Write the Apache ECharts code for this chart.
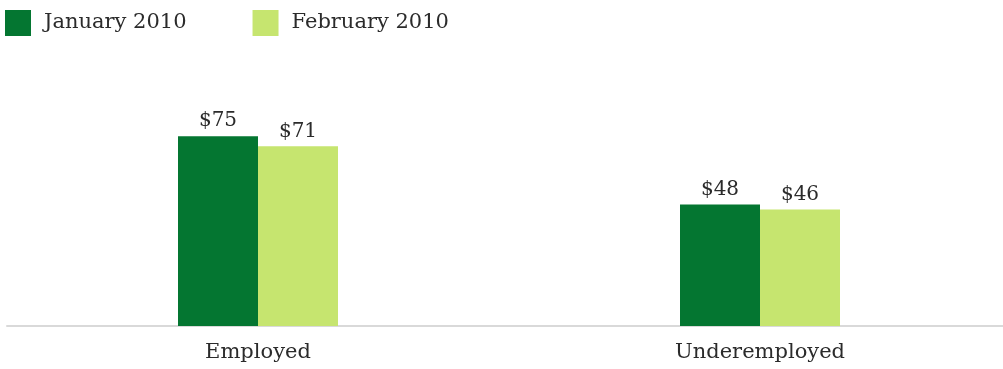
<!DOCTYPE html>
<html>
<head>
<meta charset="utf-8">
<style>
  html, body { margin: 0; padding: 0; background: #ffffff; overflow: hidden; }
  /* the plot runs a little past the right edge of the window, so the axis line bleeds off */
  #chart { width: 1011px; height: 369px; }
</style>
<script src="https://cdn.jsdelivr.net/npm/echarts@6/dist/echarts.min.js"></script>
</head>
<body>
<div id="chart"></div>
<script>
// Average spending, by employment status, in two months of 2010
const categories = ['Employed', 'Underemployed'];
const seriesNames = ['January 2010', 'February 2010'];
const janValues = [75, 48];
const febValues = [71, 46];

const FONT = 'DejaVu Serif';
const TEXT_COLOR = '#2b2b2b';
const DARK_GREEN = '#047631';
const LIGHT_GREEN = '#c6e56f';

const chart = echarts.init(document.getElementById('chart'), null, { renderer: 'canvas' });

const labelStyle = {
  show: true,
  position: 'top',
  distance: 5,
  fontFamily: FONT,
  fontSize: 20,
  color: TEXT_COLOR,
  formatter: (p) => '$' + p.value
};

chart.setOption({
  animation: false,
  backgroundColor: '#ffffff',
  legend: {
    left: 5,
    top: 10,
    padding: 0,
    itemWidth: 26,
    itemHeight: 26,
    itemGap: 66,
    icon: 'rect',
    textStyle: { fontFamily: FONT, fontSize: 21, color: TEXT_COLOR, padding: [0, 0, 0, 8] },
    data: seriesNames
  },
  grid: { left: 7, top: 73, right: 0, bottom: 43, containLabel: false },
  xAxis: {
    type: 'category',
    data: categories,
    axisLine: { show: true, lineStyle: { color: '#d9d9d9', width: 2 } },
    axisTick: { show: false },
    axisLabel: { margin: 16, fontFamily: FONT, fontSize: 21, color: TEXT_COLOR }
  },
  yAxis: {
    type: 'value',
    min: 0,
    max: 100,
    show: false,
    splitLine: { show: false }
  },
  series: [
    {
      name: seriesNames[0],
      type: 'bar',
      data: janValues,
      barWidth: 80,
      barGap: '0%',
      itemStyle: { color: DARK_GREEN },
      label: labelStyle
    },
    {
      name: seriesNames[1],
      type: 'bar',
      data: febValues,
      barWidth: 80,
      barGap: '0%',
      itemStyle: { color: LIGHT_GREEN },
      label: labelStyle
    }
  ]
});
</script>
</body>
</html>
